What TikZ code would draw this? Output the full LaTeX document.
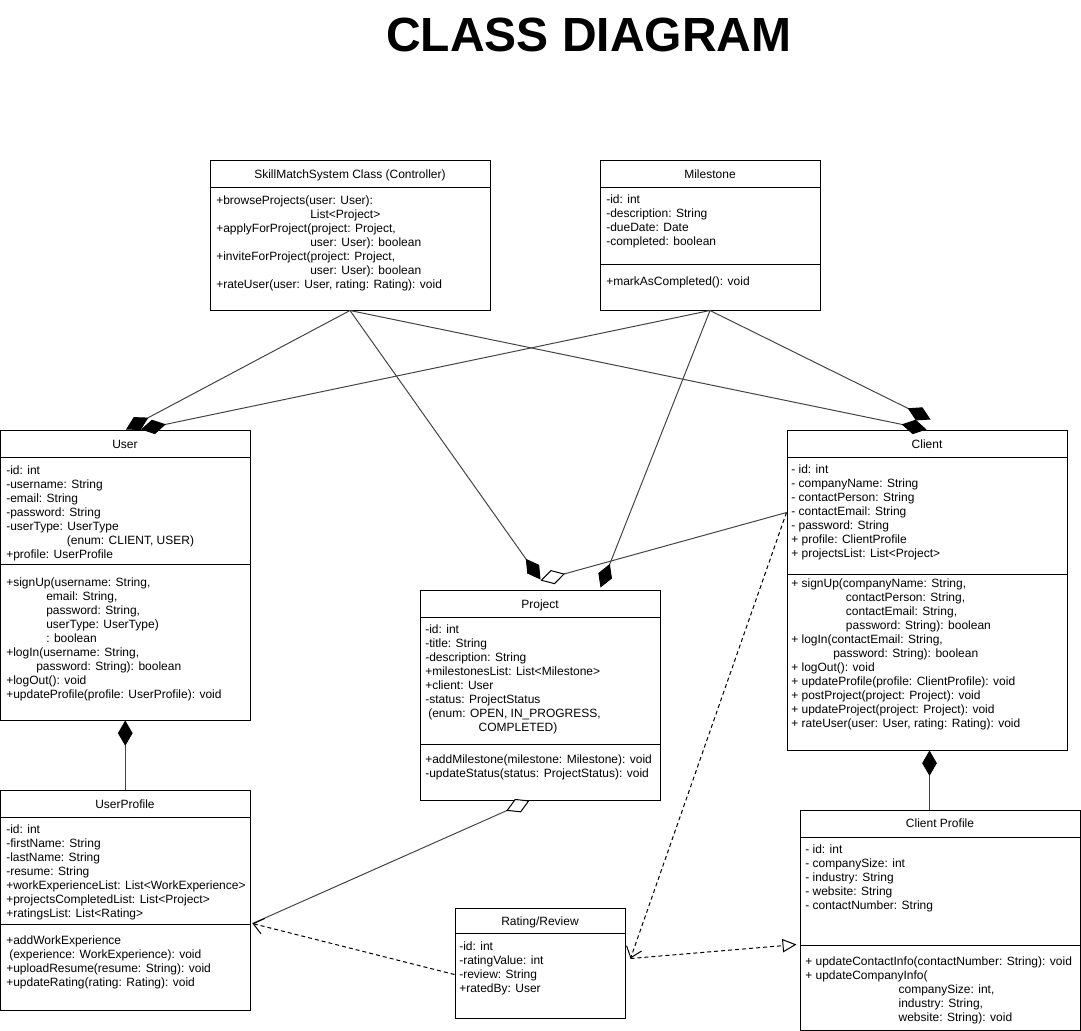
\documentclass[tikz,border=0pt]{standalone}
\usepackage{fontspec}
\setmainfont{Liberation Sans}
\usetikzlibrary{arrows.meta,calc,fit}
\newcommand{\fstr}{\rule{0pt}{8pt}}
\definecolor{conn}{HTML}{444444}
\begin{document}
\begin{tikzpicture}[x=0.75pt,y=-0.75pt,
  box/.style={draw=black,line width=0.75pt,inner sep=0pt,fill=white},
  sepline/.style={draw=black,line width=0.75pt},
  txt/.style={anchor=north west,inner sep=0pt,align=left,font=\fontsize{9}{10.5}\selectfont},
  ttl/.style={anchor=base,inner sep=0pt,font=\fontsize{9}{10.5}\selectfont},
  comp/.style={draw=conn,line width=0.75pt,-{Diamond[length=19pt,width=11pt,color=black]}},
  agg/.style={draw=conn,line width=0.75pt,-{Diamond[open,length=19pt,width=11pt,color=black,fill=white]}},
  dep/.style={draw=black,line width=0.75pt,dash pattern=on 3pt off 2.25pt,-{Straight Barb[length=7.5pt,width=12pt]}},
  real/.style={draw=black,line width=0.75pt,dash pattern=on 3pt off 2.25pt,-{Triangle[open,length=10.5pt,width=10pt,fill=white]}}
]
\useasboundingbox (0,0) rectangle (1081,1031);

\node[anchor=base,inner sep=0pt,font=\fontsize{36}{40}\selectfont\bfseries] (title) at (589,52) {CLASS DIAGRAM};

% ---------- boxes ----------
\node[box,fit={(210,160)(490,310)}] (sm) {};
\draw[sepline] (210,187) -- (490,187);
\node[ttl] (smT) at (350,178) {SkillMatchSystem Class (Controller)};
\node[txt] (smM) at (216,193.3) {\fstr+browseProjects(user: User):\\
\hspace*{70.5pt}List<Project>\\
+applyForProject(project: Project,\\
\hspace*{70.5pt}user: User): boolean\\
+inviteForProject(project: Project,\\
\hspace*{70.5pt}user: User): boolean\\
+rateUser(user: User, rating: Rating): void};

\node[box,fit={(600,160)(820,310)}] (ms) {};
\draw[sepline] (600,187) -- (820,187);
\draw[sepline] (600,264) -- (820,264);
\node[ttl] (msT) at (710,178) {Milestone};
\node[txt] (msA) at (606,192.8) {\fstr-id: int\\-description: String\\-dueDate: Date\\-completed: boolean};
\node[txt] (msM) at (606,274.3) {\fstr+markAsCompleted(): void};

\node[box,fit={(0.5,430)(250,720)}] (user) {};
\draw[sepline] (0.5,457) -- (250,457);
\draw[sepline] (0.5,564) -- (250,564);
\node[ttl] (userT) at (125,448) {User};
\node[txt] (userA) at (6,463.8) {\fstr-id: int\\-username: String\\-email: String\\-password: String\\-userType: UserType\\
\hspace*{45.5pt}(enum: CLIENT, USER)\\+profile: UserProfile};
\node[txt] (userM) at (6,575.3) {\fstr+signUp(username: String,\\
\hspace*{30pt}email: String,\\
\hspace*{30pt}password: String,\\
\hspace*{30pt}userType: UserType)\\
\hspace*{30pt}: boolean\\
+logIn(username: String,\\
\hspace*{22.5pt}password: String): boolean\\
+logOut(): void\\
+updateProfile(profile: UserProfile): void};

\node[box,fit={(787,430)(1067,750)}] (client) {};
\draw[sepline] (787,457) -- (1067,457);
\draw[sepline] (787,574) -- (1067,574);
\node[ttl] (clientT) at (927,448) {Client};
\node[txt] (clientA) at (791,462.8) {\fstr- id: int\\- companyName: String\\- contactPerson: String\\- contactEmail: String\\- password: String\\+ profile: ClientProfile\\+ projectsList: List<Project>};
\node[txt] (clientM) at (791,576.3) {\fstr+ signUp(companyName: String,\\
\hspace*{41pt}contactPerson: String,\\
\hspace*{41pt}contactEmail: String,\\
\hspace*{41pt}password: String): boolean\\
+ logIn(contactEmail: String,\\
\hspace*{31.5pt}password: String): boolean\\
+ logOut(): void\\
+ updateProfile(profile: ClientProfile): void\\
+ postProject(project: Project): void\\
+ updateProject(project: Project): void\\
+ rateUser(user: User, rating: Rating): void};

\node[box,fit={(420,590)(660,800)}] (proj) {};
\draw[sepline] (420,617) -- (660,617);
\draw[sepline] (420,744) -- (660,744);
\node[ttl] (projT) at (540,608) {Project};
\node[txt] (projA) at (425,622.8) {\fstr-id: int\\-title: String\\-description: String\\+milestonesList: List<Milestone>\\+client: User\\-status: ProjectStatus\\
\hspace*{2.25pt}(enum: OPEN, IN\_PROGRESS,\\
\hspace*{40pt}COMPLETED)};
\node[txt] (projM) at (425,752.8) {\fstr+addMilestone(milestone: Milestone): void\\-updateStatus(status: ProjectStatus): void};

\node[box,fit={(0.5,790)(250,1010)}] (up) {};
\draw[sepline] (0.5,817) -- (250,817);
\draw[sepline] (0.5,924) -- (250,924);
\node[ttl] (upT) at (125,808) {UserProfile};
\node[txt] (upA) at (6,822.8) {\fstr-id: int\\-firstName: String\\-lastName: String\\-resume: String\\+workExperienceList: List<WorkExperience>\\+projectsCompletedList: List<Project>\\+ratingsList: List<Rating>};
\node[txt] (upM) at (6,933.8) {\fstr+addWorkExperience\\
\hspace*{2.25pt}(experience: WorkExperience): void\\
+uploadResume(resume: String): void\\
+updateRating(rating: Rating): void};

\node[box,fit={(800,810)(1080,1030)}] (cp) {};
\draw[sepline] (800,837) -- (1080,837);
\draw[sepline] (800,945) -- (1080,945);
\node[ttl] (cpT) at (940,827.5) {Client Profile};
\node[txt] (cpA) at (805,842.8) {\fstr- id: int\\- companySize: int\\- industry: String\\- website: String\\- contactNumber: String};
\node[txt] (cpM) at (805,954.3) {\fstr+ updateContactInfo(contactNumber: String): void\\
+ updateCompanyInfo(\\
\hspace*{70pt}companySize: int,\\
\hspace*{70pt}industry: String,\\
\hspace*{70pt}website: String): void};

\node[box,fit={(455,908)(625,1018)}] (rate) {};
\draw[sepline] (455,933) -- (625,933);
\node[ttl] (rateT) at (540,925) {Rating/Review};
\node[txt] (rateA) at (459,939.3) {\fstr-id: int\\-ratingValue: int\\-review: String\\+ratedBy: User};

% ---------- connectors ----------
\coordinate (clL) at ($(client.north west)+(0,83)$);
\coordinate (upR) at ($(up.north east)+(2,134)$);
\coordinate (rtR) at ($(rate.north east)+(5,51)$);
\coordinate (clB) at ($(client.south west)+(143,0)$);

\draw[comp] (sm.south) -- ($(user.north west)+(126,0)$);
\draw[comp] (ms.south) -- ($(user.north west)+(141,0)$);
\draw[comp] (sm.south) -- ($(proj.north west)+(121,-10)$);
\draw[comp] (ms.south) -- ($(proj.north west)+(181,-2)$);
\draw[comp] (ms.south) -- ($(client.north west)+(144,-10)$);
\draw[comp] (sm.south) -- ($(client.north west)+(140,0)$);
\draw[agg] (clL) -- ($(proj.north west)+(121,-9)$);
\draw[agg] (upR) -- ($(proj.south west)+(110,0)$);
\draw[dep] ($(rate.north west)+(0,67)$) -- (upR);
\draw[dep] (clL) -- (rtR);
\draw[real] (rtR) -- ($(cp.north west)+(-3,135)$);
\draw[comp] (up.north) -- (user.south);
\draw[comp] (clB |- cp.north) -- (clB);
\end{tikzpicture}
\end{document}
